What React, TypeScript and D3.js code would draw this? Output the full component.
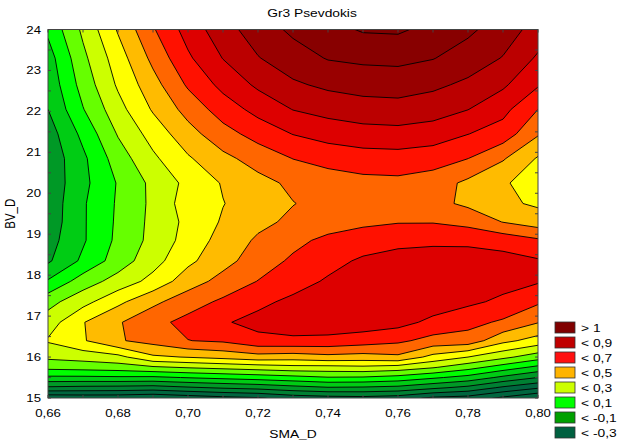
import * as d3 from "d3";
import { useRef, useEffect } from "react";

// grid columns (SMA_D) and rows (BV_D, bottom to top)
const smaValues = [0.66, 0.67, 0.68, 0.69, 0.7, 0.71, 0.72, 0.73, 0.74, 0.75, 0.76, 0.77, 0.78, 0.79, 0.8];
const bvValues = [15, 15.25, 15.5, 15.75, 16, 16.4, 16.85, 17.35, 17.85, 18.35, 18.85, 19.3, 19.75, 20.25, 20.85, 21.45, 22.05, 22.65, 23.3, 24];

// surface values, one row per BV_D value
const surface = [
  [-0.48, -0.47, -0.47, -0.49, -0.46, -0.43, -0.41, -0.36, -0.34, -0.33, -0.35, -0.42, -0.44, -0.52, -0.6],
  [-0.22, -0.23, -0.235, -0.245, -0.215, -0.19, -0.17, -0.137, -0.11, -0.115, -0.13, -0.18, -0.23, -0.32, -0.39],
  [-0.02, -0.02, -0.015, -0.018, 0.005, 0.025, 0.045, 0.068, 0.094, 0.09, 0.065, 0.015, -0.035, -0.123, -0.2],
  [0.13, 0.14, 0.153, 0.185, 0.21, 0.23, 0.25, 0.27, 0.27, 0.28, 0.26, 0.21, 0.138, 0.055, -0.025],
  [0.22, 0.24, 0.27, 0.383, 0.405, 0.43, 0.46, 0.448, 0.47, 0.459, 0.48, 0.367, 0.3, 0.225, 0.145],
  [0.31, 0.39, 0.49, 0.535, 0.598, 0.615, 0.673, 0.68, 0.673, 0.65, 0.62, 0.566, 0.56, 0.427, 0.36],
  [0.25, 0.395, 0.49, 0.57, 0.63, 0.69, 0.73, 0.755, 0.76, 0.755, 0.735, 0.675, 0.63, 0.585, 0.505],
  [0.165, 0.266, 0.376, 0.477, 0.556, 0.618, 0.677, 0.722, 0.745, 0.76, 0.765, 0.755, 0.72, 0.68, 0.615],
  [0.01, 0.149, 0.24, 0.332, 0.454, 0.533, 0.603, 0.66, 0.712, 0.745, 0.765, 0.77, 0.76, 0.735, 0.71],
  [-0.115, 0.02, 0.147, 0.262, 0.377, 0.467, 0.548, 0.617, 0.668, 0.715, 0.75, 0.76, 0.755, 0.735, 0.71],
  [-0.14, -0.012, 0.123, 0.23, 0.339, 0.438, 0.515, 0.572, 0.625, 0.65, 0.665, 0.675, 0.675, 0.66, 0.615],
  [-0.16, -0.012, 0.117, 0.226, 0.326, 0.411, 0.475, 0.52, 0.55, 0.58, 0.595, 0.595, 0.57, 0.497, 0.45],
  [-0.165, -0.012, 0.113, 0.222, 0.349, 0.397, 0.447, 0.497, 0.53, 0.55, 0.55, 0.53, 0.48, 0.42, 0.385],
  [-0.17, -0.027, 0.108, 0.225, 0.327, 0.408, 0.468, 0.52, 0.55, 0.57, 0.575, 0.55, 0.478, 0.41, 0.36],
  [-0.17, -0.021, 0.15, 0.281, 0.388, 0.474, 0.541, 0.602, 0.635, 0.655, 0.66, 0.645, 0.601, 0.51, 0.39],
  [-0.15, 0.027, 0.208, 0.34, 0.462, 0.562, 0.638, 0.703, 0.74, 0.762, 0.768, 0.75, 0.702, 0.655, 0.51],
  [-0.1, 0.095, 0.264, 0.411, 0.536, 0.647, 0.733, 0.803, 0.835, 0.855, 0.862, 0.845, 0.802, 0.73, 0.6],
  [-0.07, 0.139, 0.314, 0.462, 0.614, 0.729, 0.818, 0.885, 0.92, 0.94, 0.945, 0.92, 0.88, 0.816, 0.71],
  [-0.045, 0.176, 0.352, 0.526, 0.684, 0.803, 0.895, 0.956, 1.006, 1.02, 1.025, 1.004, 0.954, 0.895, 0.785],
  [0.02, 0.22, 0.41, 0.59, 0.74, 0.86, 0.95, 1.02, 1.067, 1.11, 1.115, 1.07, 1.02, 0.95, 0.86],
];

// contour levels and the colour of the band above each level
const levels = [-0.5, -0.4, -0.3, -0.2, -0.1, 0, 0.1, 0.2, 0.3, 0.4, 0.5, 0.6, 0.7, 0.8, 0.9, 1.0, 1.1];
const levelColors = [
  "#00663f", "#00663f", "#008033", "#009926", "#00cc14", "#00ff00", "#66ff00", "#ccff00",
  "#ffff00", "#ffbb00", "#ff6600", "#ff1100", "#dd0000", "#bb0000", "#990000", "#880000", "#800000",
];
const baseColor = "#00663f";

const legendLabels = ["> 1", "< 0,9", "< 0,7", "< 0,5", "< 0,3", "< 0,1", "< -0,1", "< -0,3"];
const legendColors = ["#800000", "#c00000", "#ff1010", "#ffb400", "#ccff00", "#00ff00", "#00a000", "#006040"];

const xTicks = [0.66, 0.68, 0.7, 0.72, 0.74, 0.76, 0.78, 0.8];
const yTicks = [15, 16, 17, 18, 19, 20, 21, 22, 23, 24];

const FONT = "'Liberation Sans', Arial, sans-serif";

export default function App({
  width = 624,
  height = 444,
  left = 48,
  right = 538,
  top = 29.5,
  bottom = 398,
}: {
  width?: number;
  height?: number;
  left?: number;
  right?: number;
  top?: number;
  bottom?: number;
}) {
  const svgRef = useRef<SVGSVGElement | null>(null);

  useEffect(() => {
    const svg = d3.select(svgRef.current);
    svg.selectAll("*").remove();

    const x = d3.scaleLinear().domain([0.66, 0.8]).range([left, right]);
    const y = d3.scaleLinear().domain([15, 24]).range([bottom, top]);

    // grid index -> data value (rows are unevenly spaced)
    const colToX = d3.scaleLinear().domain(d3.range(smaValues.length)).range(smaValues);
    const rowToY = d3.scaleLinear().domain(d3.range(bvValues.length)).range(bvValues);

    const nx = smaValues.length;
    const ny = bvValues.length;
    const contours = d3.contours().size([nx, ny]).thresholds(levels)(surface.flat());

    const px = (c: number) => x(colToX(c - 0.5));
    const py = (c: number) => y(rowToY(c - 0.5));
    const toPath = (coords: number[][][][]) =>
      coords
        .map((poly) =>
          poly
            .map((ring) => "M" + ring.map(([cx, cy]) => `${px(cx).toFixed(2)},${py(cy).toFixed(2)}`).join("L") + "Z")
            .join("")
        )
        .join("");

    svg.append("clipPath").attr("id", "plot-clip")
      .append("rect")
      .attr("x", left).attr("y", top)
      .attr("width", right - left).attr("height", bottom - top);

    const plot = svg.append("g").attr("clip-path", "url(#plot-clip)");

    plot.append("rect")
      .attr("x", left).attr("y", top)
      .attr("width", right - left).attr("height", bottom - top)
      .attr("fill", baseColor);

    plot.append("g")
      .selectAll("path")
      .data(contours)
      .join("path")
      .attr("d", (d) => toPath(d.coordinates as number[][][][]))
      .attr("fill", (d, i) => levelColors[i])
      .attr("fill-rule", "evenodd");

    plot.append("g")
      .selectAll("path")
      .data(contours)
      .join("path")
      .attr("d", (d) => toPath(d.coordinates as number[][][][]))
      .attr("fill", "none")
      .attr("stroke", "#000")
      .attr("stroke-width", 0.9)
      .attr("stroke-linejoin", "round");

    // frame
    svg.append("rect")
      .attr("x", left).attr("y", top)
      .attr("width", right - left).attr("height", bottom - top)
      .attr("fill", "none")
      .attr("stroke", "#444")
      .attr("stroke-width", 1);

    // small inward ticks
    const ticks = svg.append("g").attr("stroke", "#444").attr("stroke-width", 1);
    const xMinor = d3.range(0, 15).map((i) => 0.66 + i * 0.01);
    const yMinor = d3.range(0, 19).map((i) => 15 + i * 0.5);
    xMinor.forEach((v) => {
      ticks.append("line").attr("x1", x(v)).attr("x2", x(v)).attr("y1", bottom).attr("y2", bottom - 3);
      ticks.append("line").attr("x1", x(v)).attr("x2", x(v)).attr("y1", top).attr("y2", top + 3);
    });
    yMinor.forEach((v) => {
      ticks.append("line").attr("x1", left).attr("x2", left + 3).attr("y1", y(v)).attr("y2", y(v));
      ticks.append("line").attr("x1", right).attr("x2", right - 3).attr("y1", y(v)).attr("y2", y(v));
    });

    // text is drawn slightly wide, like the original export
    const label = (
      g: d3.Selection<SVGGElement, unknown, null, undefined>,
      tx: number,
      ty: number,
      text: string,
      anchor: string,
      size: number
    ) =>
      g.append("text")
        .attr("transform", `translate(${tx},${ty}) scale(1.2,1)`)
        .attr("text-anchor", anchor)
        .attr("font-size", size)
        .attr("font-family", FONT)
        .attr("fill", "#000")
        .text(text);

    const texts = svg.append("g");
    const fmt = d3.format(".2f");
    xTicks.forEach((v) => label(texts, x(v), 416.5, fmt(v).replace(".", ","), "middle", 11));
    yTicks.forEach((v) => label(texts, 41, y(v) + 4, String(v), "end", 11));

    label(texts, width / 2, 17, "Gr3 Psevdokis", "middle", 11.5);
    label(texts, (left + right) / 2, 438, "SMA_D", "middle", 11.5);
    texts.append("text")
      .attr("transform", `translate(15,${(top + bottom) / 2}) rotate(-90) scale(1,1.2)`)
      .attr("text-anchor", "middle")
      .attr("font-size", 11.5)
      .attr("font-family", FONT)
      .text("BV_D");

    // legend
    const legend = svg.append("g");
    legendLabels.forEach((t, i) => {
      const ly = 322 + i * 15;
      legend.append("rect")
        .attr("x", 555).attr("y", ly)
        .attr("width", 20).attr("height", 11)
        .attr("fill", legendColors[i])
        .attr("stroke", "#333")
        .attr("stroke-width", 0.8);
      label(legend, 581, ly + 9.5, t, "start", 11.5);
    });
  }, [width, height, left, right, top, bottom]);

  return (
    <svg
      ref={svgRef}
      width={width}
      height={height}
      viewBox={`0 0 ${width} ${height}`}
      style={{ position: "absolute", left: 0, top: 0, background: "#fff" }}
    ></svg>
  );
}
